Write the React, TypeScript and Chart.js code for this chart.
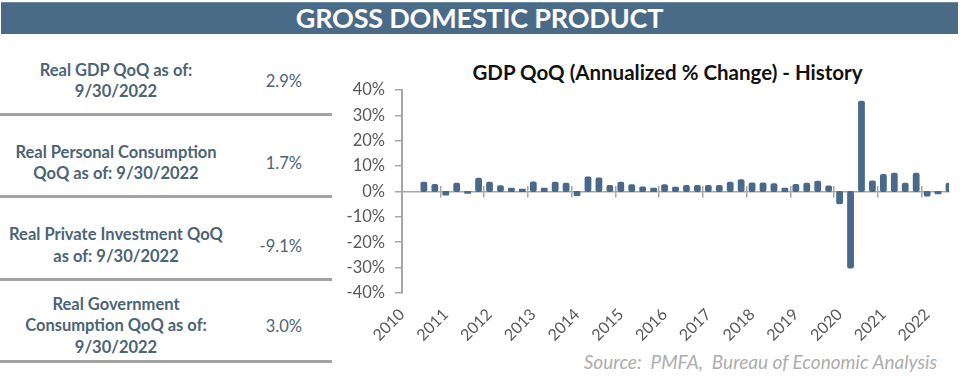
import React, { useEffect, useRef } from 'react';
import { Chart, registerables } from 'chart.js';

Chart.register(...registerables);

// Quarter categories (axis starts at 2010Q1, data starts 2010Q3)
const quarters = [
  '2010Q1', '2010Q2', '2010Q3', '2010Q4',
  '2011Q1', '2011Q2', '2011Q3', '2011Q4',
  '2012Q1', '2012Q2', '2012Q3', '2012Q4',
  '2013Q1', '2013Q2', '2013Q3', '2013Q4',
  '2014Q1', '2014Q2', '2014Q3', '2014Q4',
  '2015Q1', '2015Q2', '2015Q3', '2015Q4',
  '2016Q1', '2016Q2', '2016Q3', '2016Q4',
  '2017Q1', '2017Q2', '2017Q3', '2017Q4',
  '2018Q1', '2018Q2', '2018Q3', '2018Q4',
  '2019Q1', '2019Q2', '2019Q3', '2019Q4',
  '2020Q1', '2020Q2', '2020Q3', '2020Q4',
  '2021Q1', '2021Q2', '2021Q3', '2021Q4',
  '2022Q1', '2022Q2', '2022Q3',
];

// Real GDP QoQ, annualized % change
const gdpQoQ: (number | null)[] = [
  null, null, 3.3, 2.5,
  -1.1, 3.0, -0.4, 4.9,
  3.3, 2.0, 1.0, 0.6,
  3.4, 1.0, 3.3, 3.0,
  -1.3, 5.4, 5.0, 2.1,
  3.3, 2.4, 1.5, 1.0,
  2.4, 1.4, 2.1, 2.1,
  2.1, 2.1, 3.3, 4.3,
  3.1, 3.1, 2.8, 1.0,
  2.5, 3.0, 3.7, 1.9,
  -4.6, -29.9, 35.3, 3.8,
  6.4, 6.9, 3.0, 6.9,
  -1.5, -0.6, 3.0,
];

const yTickValues = [-40, -30, -20, -10, 0, 10, 20, 30, 40];

const tableLabels = [
  ['Real GDP QoQ as of:', '9/30/2022'],
  ['Real Personal Consumption', 'QoQ as of: 9/30/2022'],
  ['Real Private Investment QoQ', 'as of: 9/30/2022'],
  ['Real Government', 'Consumption QoQ as of:', '9/30/2022'],
];
const tableValues = ['2.9%', '1.7%', '-9.1%', '3.0%'];

const rowCenters = [81, 163, 245.5, 326];
const separatorTops = [113, 195, 278, 360];

const BAR_COLOR = '#48698a';
const AXIS_GRAY = '#a6a6a6';
const TEXT_GRAY = '#595959';
const TABLE_TEXT = '#4b6476';

function GdpChart() {
  const ref = useRef<HTMLCanvasElement | null>(null);
  useEffect(() => {
    if (!ref.current) return;
    const yearTickColor = (ctx: any) => (ctx.index % 4 === 0 ? AXIS_GRAY : 'rgba(0,0,0,0)');
    const chart = new Chart(ref.current, {
      type: 'bar',
      data: {
        labels: quarters,
        datasets: [
          {
            data: gdpQoQ,
            backgroundColor: BAR_COLOR,
            borderWidth: 0,
            borderRadius: 2,
            borderSkipped: false,
            barPercentage: 0.4,
            categoryPercentage: 1,
            inflateAmount: 1.2,
            xAxisID: 'x',
            yAxisID: 'y',
          } as any,
        ],
      },
      options: {
        animation: false,
        responsive: false,
        maintainAspectRatio: false,
        layout: { padding: { top: 3, right: 11, bottom: 1, left: 0 } },
        plugins: {
          legend: { display: false },
          title: { display: false },
          tooltip: { enabled: false },
        },
        scales: {
          x: {
            type: 'category',
            position: 'bottom',
            offset: false,
            grid: { display: false, drawTicks: false },
            border: { display: false },
            ticks: {
              autoSkip: false,
              minRotation: 45,
              maxRotation: 45,
              padding: 12,
              color: TEXT_GRAY,
              font: { family: 'Lato', size: 16 },
              callback: (_v: any, i: number) =>
                quarters[i].endsWith('Q1') ? quarters[i].slice(0, 4) : null,
            },
            afterFit: (s: any) => {
              s.height = 50;
            },
          },
          xz: {
            type: 'category',
            labels: quarters,
            position: { y: 0 } as any,
            offset: false,
            ticks: { display: false, autoSkip: false },
            grid: {
              drawOnChartArea: false,
              drawTicks: true,
              tickLength: 5,
              lineWidth: 1.5,
              color: yearTickColor,
            },
            border: { display: true, color: AXIS_GRAY, width: 1.5 },
            afterFit: (s: any) => {
              s.height = 0;
            },
          } as any,
          xz2: {
            type: 'category',
            labels: quarters,
            position: { y: 0 } as any,
            offset: false,
            ticks: { display: false, autoSkip: false },
            grid: {
              drawOnChartArea: false,
              drawTicks: true,
              tickLength: -5,
              lineWidth: 1.5,
              color: yearTickColor,
            },
            border: { display: false },
            afterFit: (s: any) => {
              s.height = 0;
            },
          } as any,
          y: {
            type: 'linear',
            position: 'left',
            min: -40,
            max: 40,
            afterBuildTicks: (s: any) => {
              s.ticks = yTickValues.map((v) => ({ value: v }));
            },
            ticks: {
              padding: 10,
              color: TEXT_GRAY,
              font: { family: 'Lato', size: 16.5 },
              callback: (v: any) => `${v}%`,
            },
            grid: {
              drawOnChartArea: false,
              drawTicks: true,
              tickLength: 7,
              lineWidth: 1.5,
              color: AXIS_GRAY,
            },
            border: { display: true, color: AXIS_GRAY, width: 2 },
            afterFit: (s: any) => {
              s.width = 62;
            },
          },
        },
      },
    });
    return () => chart.destroy();
  }, []);
  return (
    <canvas
      ref={ref}
      width={620}
      height={274}
      style={{ position: 'absolute', left: 340, top: 70, width: 620, height: 274 }}
    />
  );
}

export default function App() {
  return (
    <div
      style={{
        position: 'absolute',
        left: 0,
        top: 0,
        width: 960,
        height: 377,
        background: '#ffffff',
        overflow: 'hidden',
        fontFamily: 'Lato, sans-serif',
      }}
    >
      <div
        style={{
          position: 'absolute',
          left: 1,
          top: 2,
          width: 957,
          height: 32,
          background: '#4a6b88',
          borderTop: '1px solid #6d8aa3',
          boxSizing: 'border-box',
          color: '#ffffff',
          fontSize: 27,
          fontWeight: 700,
          lineHeight: '30px',
          textAlign: 'center',
          letterSpacing: '-0.2px',
        }}
      >
        GROSS DOMESTIC PRODUCT
      </div>

      {tableLabels.map((lines, i) => (
        <React.Fragment key={i}>
          <div
            style={{
              position: 'absolute',
              left: 0,
              width: 232,
              top: rowCenters[i] - 40,
              height: 80,
              display: 'flex',
              flexDirection: 'column',
              justifyContent: 'center',
              alignItems: 'center',
              color: TABLE_TEXT,
              fontSize: 16.5,
              fontWeight: 700,
              lineHeight: '21.5px',
              textAlign: 'center',
              whiteSpace: 'nowrap',
            }}
          >
            {lines.map((l, j) => (
              <div key={j}>{l}</div>
            ))}
          </div>
          <div
            style={{
              position: 'absolute',
              left: 231,
              width: 71,
              top: rowCenters[i] - 11,
              height: 22,
              lineHeight: '22px',
              textAlign: 'right',
              color: TABLE_TEXT,
              fontSize: 16.5,
              fontWeight: 400,
            }}
          >
            {tableValues[i]}
          </div>
          <div
            style={{
              position: 'absolute',
              left: 0,
              width: 332,
              top: separatorTops[i],
              height: 3,
              background: '#a3a3a3',
            }}
          />
        </React.Fragment>
      ))}

      <div
        style={{
          position: 'absolute',
          left: 410,
          width: 515,
          top: 59,
          height: 26,
          lineHeight: '26px',
          textAlign: 'center',
          color: '#111111',
          fontSize: 20.5,
          fontWeight: 700,
          whiteSpace: 'nowrap',
        }}
      >
        GDP QoQ (Annualized % Change) - History
      </div>

      <GdpChart />

      <div
        style={{
          position: 'absolute',
          right: 23,
          top: 350,
          height: 24,
          lineHeight: '24px',
          color: '#adadad',
          fontSize: 19,
          fontStyle: 'italic',
          whiteSpace: 'pre',
        }}
      >
        {'Source:  PMFA,  Bureau of Economic Analysis'}
      </div>
    </div>
  );
}
